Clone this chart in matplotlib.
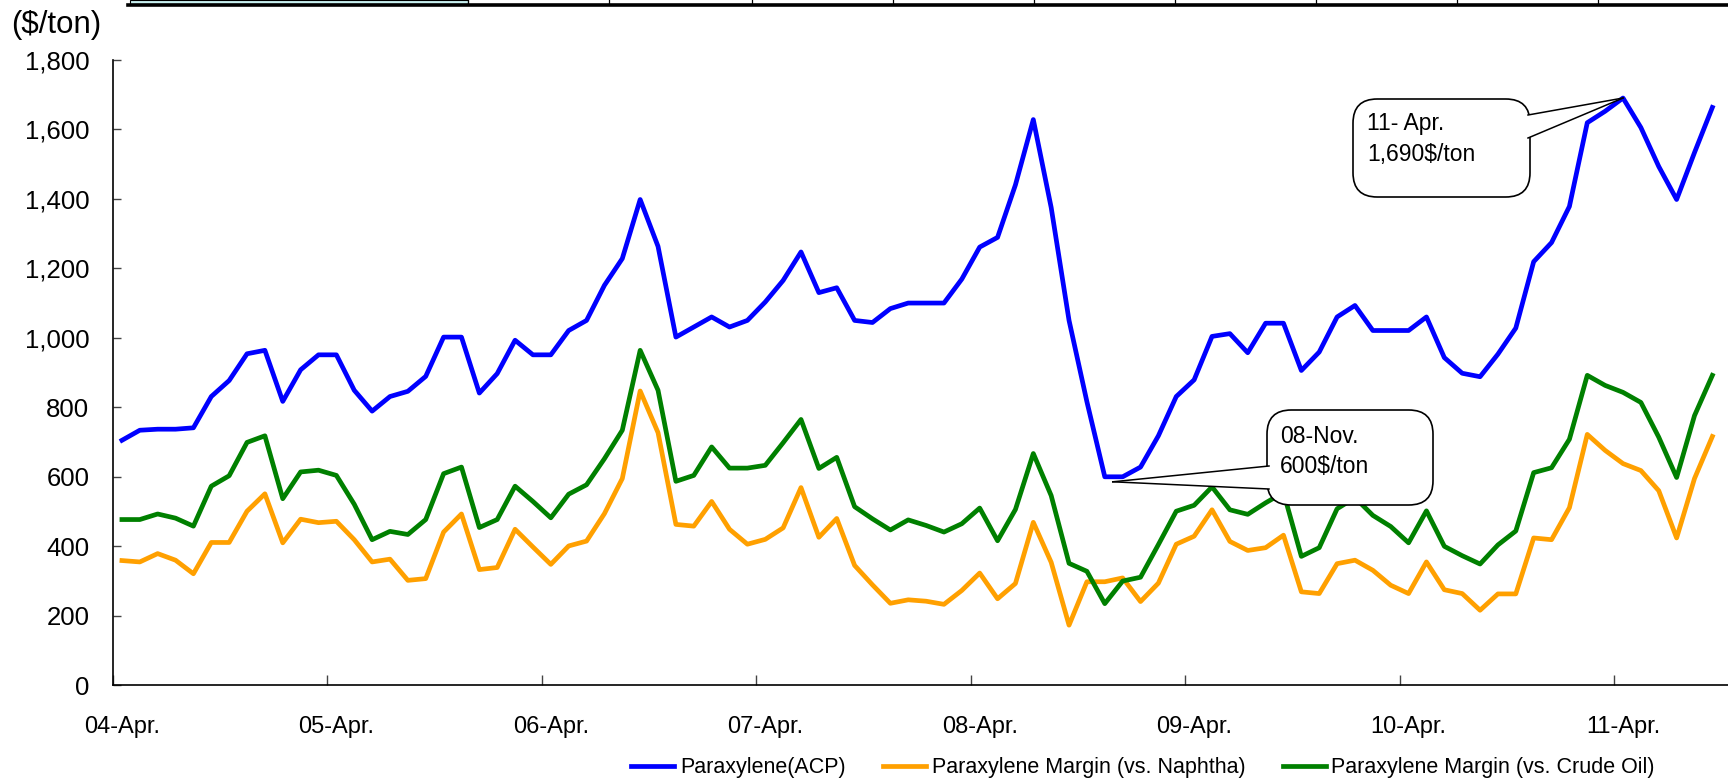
import numpy as np
import matplotlib.pyplot as plt
from matplotlib.patches import FancyBboxPatch, Polygon, Rectangle
from matplotlib.lines import Line2D

plt.rcParams['font.family'] = ['Liberation Sans', 'DejaVu Sans']

# monthly series, Apr 2004 .. Sep 2011 ($/ton)
acp = [705, 734, 737, 737, 741, 831, 877, 954, 964, 817, 908, 951,
       951, 849, 789, 831, 846, 889, 1002, 1002, 841, 897, 993, 951,
       951, 1021, 1050, 1151, 1228, 1398, 1263, 1002, 1031, 1060, 1031, 1050,
       1103, 1165, 1247, 1130, 1144, 1050, 1044, 1084, 1100, 1100, 1100, 1169,
       1261, 1289, 1440, 1628, 1375, 1050, 816, 600, 600, 628, 718, 831,
       879, 1004, 1012, 957, 1042, 1042, 906, 959, 1060, 1093, 1021, 1021,
       1021, 1060, 943, 898, 888, 953, 1028, 1219, 1274, 1378, 1619, 1652,
       1690, 1605, 1493, 1398, 1533, 1663]
naphtha_margin = [359, 355, 379, 360, 321, 411, 411, 501, 551, 410, 478, 468,
                  472, 419, 355, 363, 302, 307, 441, 493, 333, 339, 449, 398,
                  348, 401, 415, 494, 595, 847, 727, 463, 458, 529, 449, 406,
                  420, 453, 569, 426, 480, 345, 289, 236, 246, 242, 233, 273,
                  323, 249, 293, 469, 354, 173, 298, 298, 309, 241, 294, 406,
                  429, 505, 414, 388, 396, 432, 269, 264, 350, 360, 331, 288,
                  264, 355, 275, 264, 216, 263, 263, 424, 419, 511, 722, 676,
                  638, 618, 560, 424, 595, 716]
crude_margin = [477, 477, 493, 481, 458, 573, 603, 699, 718, 537, 614, 619,
                604, 521, 419, 443, 434, 477, 609, 628, 454, 477, 573, 529,
                482, 550, 577, 652, 734, 964, 849, 587, 604, 686, 625, 625,
                633, 698, 765, 624, 656, 514, 479, 447, 476, 460, 441, 465,
                510, 416, 506, 667, 546, 351, 328, 235, 300, 311, 405, 501,
                518, 571, 505, 492, 525, 555, 371, 396, 508, 540, 489, 457,
                410, 502, 400, 373, 349, 404, 444, 612, 626, 708, 892, 863,
                843, 814, 714, 598, 776, 892]
year_labels = ['04-Apr.', '05-Apr.', '06-Apr.', '07-Apr.',
               '08-Apr.', '09-Apr.', '10-Apr.', '11-Apr.']

W, H = 1728, 781
fig = plt.figure(figsize=(W / 100, H / 100), dpi=100)


def frac(px, py):
    # pixel from top-left -> figure fraction
    return px / W, (H - py) / H


left, bottom, top = 113, 685.3, 59.8
month_w = 17.87
ax = fig.add_axes([left / W, (H - bottom) / H, (W - left) / W, (bottom - top) / H])

x = np.arange(len(acp)) + 0.5
ax.plot(x, acp, color='#0000ff', lw=3.4, label='Paraxylene(ACP)')
ax.plot(x, naphtha_margin, color='#ffa000', lw=3.4, label='Paraxylene Margin (vs. Naphtha)')
ax.plot(x, crude_margin, color='#008000', lw=3.4, label='Paraxylene Margin (vs. Crude Oil)')

ax.set_xlim(0, (W - left) / month_w)
ax.set_ylim(0, 1800)
ax.set_yticks(np.arange(0, 1801, 200))
ax.set_yticklabels([f'{v:,}' for v in range(0, 1801, 200)])

ax.set_xticks(np.arange(0, len(acp), 12))
ax.set_xticklabels([])
ax.set_xticks(np.arange(0, len(acp), 12) + 0.5, minor=True)
ax.set_xticklabels(year_labels, minor=True)

ax.tick_params(axis='y', direction='in', length=6, width=1, color='#444444',
               labelsize=18.5, pad=17)
ax.tick_params(axis='x', which='major', direction='in', length=7, width=1, color='#444444')
ax.tick_params(axis='x', which='minor', length=0, labelsize=17, pad=22)

for s in ['top', 'right']:
    ax.spines[s].set_visible(False)
for s in ['left', 'bottom']:
    ax.spines[s].set_linewidth(1.2)

fig.text(11 / W, (H - 25) / H, '($/ton)', fontsize=22.5, va='center', ha='left')

ax.legend(loc='center', bbox_to_anchor=(0.6615, 0.017), bbox_transform=fig.transFigure,
          ncol=3, frameon=False, fontsize=15.5, handlelength=2.0, handletextpad=0.25,
          columnspacing=1.75)


def callout(box, base, tip, lines, text_x, baselines):
    # box = (l, t, r, b) in pixels from top-left; base = two points on box edge
    l, t, r, b = box
    fig.add_artist(FancyBboxPatch(frac(l, b), (r - l) / W, (b - t) / H,
                                  boxstyle='round,pad=0,rounding_size=0.014',
                                  transform=fig.transFigure, fc='white', ec='black',
                                  lw=1.2, zorder=5, mutation_aspect=W / H))
    tx, ty = tip
    pts = [frac(*base[0]), frac(tx, ty), frac(*base[1])]
    fig.add_artist(Polygon(pts, closed=True, fc='white', ec='none', zorder=6,
                           transform=fig.transFigure))
    for p in (base[0], base[1]):
        fig.add_artist(Line2D([p[0] / W, tx / W], [(H - p[1]) / H, (H - ty) / H],
                              color='black', lw=1.1, zorder=7, transform=fig.transFigure))
    for s, yb in zip(lines, baselines):
        fig.text(text_x / W, (H - yb) / H, s, fontsize=16.5, va='baseline',
                 ha='left', zorder=8)


def data_px(i, v):
    dx, dy = ax.transData.transform((i + 0.5, v))
    return dx, H - dy


peak = int(np.argmax(acp))
low = int(np.argmin(acp))
tip1 = data_px(peak, acp[peak])
callout((1353, 99, 1530, 197), [(1528, 115), (1528, 138)], tip1,
        ['11- Apr.', f'{acp[peak]:,}$/ton'], 1367, [130, 161])
tx2, ty2 = data_px(low, acp[low])
callout((1267, 410, 1433, 505), [(1269, 466), (1269, 489)], (tx2 + 8, ty2 + 5),
        ['08-Nov.', f'{acp[low]:,}$/ton'], 1280, [443, 473])

# strip of the table row above the chart
fig.add_artist(Rectangle(frac(130, 4), (468 - 130) / W, 4 / H, fc='#c8f0f0',
                         ec='black', lw=0.8, transform=fig.transFigure))
fig.add_artist(Line2D([128 / W, 1], [(H - 4.5) / H] * 2, color='black', lw=2.6,
                      transform=fig.transFigure))
for vx in [468, 609, 752, 893, 1034, 1175, 1316, 1457, 1598]:
    fig.add_artist(Line2D([vx / W] * 2, [1, (H - 4) / H], color='black', lw=0.9,
                          transform=fig.transFigure))

fig.savefig('out.png', dpi=100)
